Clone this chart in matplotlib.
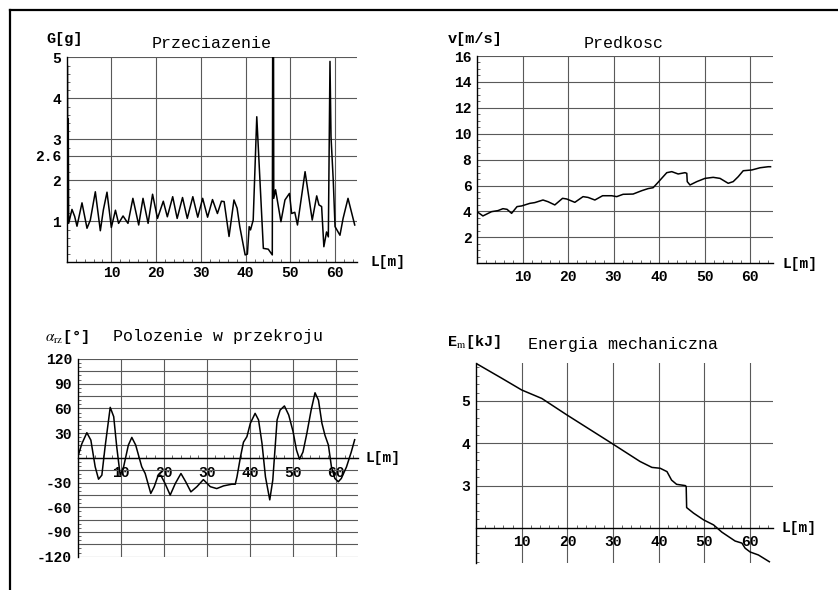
import matplotlib
matplotlib.use("Agg")
import matplotlib.pyplot as plt
import matplotlib.ticker as mtick
from matplotlib.lines import Line2D

plt.rcParams['font.family'] = 'Liberation Mono'
plt.rcParams['mathtext.fontset'] = 'stix'
plt.rcParams['axes.unicode_minus'] = False

# --- data ---
# Przeciazenie (G-load) vs L
L_g = [0.0, 0.05, 0.15, 0.25, 0.35, 0.44, 1.18, 1.78, 2.30, 3.42, 4.54, 5.28, 6.40, 7.52, 8.2,
       9.01, 9.98, 10.9, 11.6, 12.6, 13.7, 14.8, 16.1, 17.06, 18.2, 19.2, 20.3, 21.6, 22.5, 23.7,
       24.7, 25.9, 26.96, 28.2, 29.3, 30.4, 31.5, 32.6, 33.7, 34.6, 35.2, 36.3, 37.4, 38.1, 38.7,
       39.9, 40.4, 40.8, 41.1, 41.7, 42.5, 43.97, 45.07, 45.97, 46.05, 46.25, 46.3, 46.7, 47.9,
       48.8, 49.8, 50.3, 51.0, 51.6, 53.3, 54.9, 55.9, 56.4, 57.0, 57.5, 58.1, 58.5, 58.87, 59.1,
       59.6, 60.0, 61.1, 61.8, 62.9, 64.4]
G = [1.0, 0.15, 4.8, 1.2, 3.5, 0.95, 1.29, 1.12, 0.88, 1.45, 0.83, 1.03, 1.72, 0.77, 1.28,
     1.71, 0.85, 1.27, 0.95, 1.13, 0.95, 1.56, 0.91, 1.56, 0.95, 1.66, 1.07, 1.49, 1.11, 1.60,
     1.07, 1.58, 1.07, 1.60, 1.10, 1.56, 1.10, 1.53, 1.19, 1.49, 1.48, 0.63, 1.52, 1.32, 0.87,
     0.18, 0.20, 0.87, 0.79, 1.03, 3.55, 0.34, 0.32, 0.18, 5.0, 5.0, 1.56, 1.77, 0.99,
     1.52, 1.68, 1.19, 1.22, 0.91, 2.21, 1.03, 1.62, 1.40, 1.36, 0.38, 0.74, 0.62, 4.9, 3.06,
     2.0, 0.87, 0.66, 1.07, 1.56, 0.91]

# Predkosc (speed) vs L
L_v = [0, 1.3, 3.2, 4.6, 5.7, 6.6, 7.6, 8.8, 9.8, 11.6, 12.7, 14.5, 15.6, 17.1, 18.8, 19.7,
       21.5, 23.3, 24.4, 25.9, 27.6, 29.6, 30.7, 32.1, 34.3, 36.2, 37.6, 38.7, 39.6, 41.7, 42.8,
       44.2, 45.7, 46.1, 46.2, 46.8, 48.3, 50.1, 51.9, 53.4, 55.2, 56.3, 57.4, 58.5, 60.4, 62.2,
       64.0, 64.5]
v = [3.98, 3.65, 3.98, 4.06, 4.21, 4.16, 3.85, 4.37, 4.42, 4.62, 4.68, 4.88, 4.75, 4.5, 5.01,
     4.96, 4.7, 5.14, 5.08, 4.88, 5.21, 5.21, 5.14, 5.32, 5.34, 5.6, 5.76, 5.83, 6.17, 6.99,
     7.07, 6.89, 6.99, 6.94, 6.3, 6.04, 6.3, 6.55, 6.63, 6.55, 6.17, 6.3, 6.68, 7.14, 7.2, 7.37,
     7.45, 7.45]

# Polozenie w przekroju (angle) vs L
L_a = [0, 1.0, 2.17, 3.1, 4.1, 4.88, 5.65, 6.4, 7.59, 8.4, 9.1, 9.9, 10.7, 11.8, 12.6, 13.5,
       14.9, 15.7, 17.0, 17.8, 18.6, 19.3, 20.3, 21.5, 22.7, 24.0, 25.1, 26.3, 27.7, 29.2, 30.8,
       32.3, 33.9, 35.8, 36.6, 37.0, 37.8, 38.5, 39.3, 40.1, 41.2, 42.0, 42.8, 43.6, 44.6, 45.3,
       46.3, 47.0, 48.0, 49.0, 50.0, 50.8, 51.5, 52.3, 53.2, 54.2, 55.1, 55.9, 56.7, 57.4, 58.2,
       58.9, 59.7, 60.5, 61.2, 62.4, 63.5, 64.3]
alpha = [0, 17, 30.5, 21.5, -10.8, -25.9, -21, 13.4, 61.3, 50, 13.4, -21, -10.8, 15.5, 24.8,
         15.5, -10.8, -19, -43.2, -35, -23, -21, -31, -45.2, -31, -19, -29, -41.3, -35, -26.4,
         -35, -37.3, -34, -32, -32, -23, 1, 19, 25.7, 42, 54, 46, 17.5, -23, -51, -27, 46, 58,
         63, 52, 32, 9.5, -1.6, 7, 29.6, 58, 79, 70, 42, 27.5, 15.6, -10.6, -25, -29, -25, -11,
         7, 22]

# Energia mechaniczna vs L
L_e = [0, 5.6, 10, 14.4, 19.9, 29.7, 35.9, 38.5, 40.3, 41.8, 42.8, 43.9, 45.8, 46.0, 46.1,
       47.6, 49.8, 52, 53.8, 56.7, 58.2, 58.9, 60, 61.8, 64.2]
E = [5.89, 5.54, 5.26, 5.06, 4.67, 4.0, 3.57, 3.43, 3.41, 3.33, 3.13, 3.03, 3.0, 2.98, 2.48,
     2.35, 2.19, 2.07, 1.9, 1.69, 1.64, 1.52, 1.43, 1.36, 1.2]

x_ticks = [10, 20, 30, 40, 50, 60]
g_ticks = [1, 2, 2.6, 3, 4, 5]
v_ticks = [2, 4, 6, 8, 10, 12, 14, 16]
a_ticks = list(range(-120, 121, 15))
e_ticks = [3, 4, 5]

W, H = 838, 590
fig = plt.figure(figsize=(W / 100, H / 100), dpi=100)


def px_axes(x0, x1, ytop, ybot):
    return fig.add_axes([x0 / W, 1 - ybot / H, (x1 - x0) / W, (ybot - ytop) / H])


def ftext(x, y, s, **kw):
    fig.text(x / W, 1 - y / H, s, **kw)


def style(ax, ylim, yticks, ylabels, x_at, ymin_step, xpad):
    ax.set_xlim(0, 65)
    ax.set_ylim(*ylim)
    ax.patch.set_visible(False)
    for s in ['top', 'right']:
        ax.spines[s].set_visible(False)
    ax.spines['left'].set_position(('data', 0))
    ax.spines['bottom'].set_position(('data', x_at))
    for s in ['left', 'bottom']:
        ax.spines[s].set_linewidth(1.0)
    ax.set_xticks(x_ticks)
    ax.set_xticklabels([str(t) for t in x_ticks])
    ax.set_yticks(yticks)
    ax.set_yticklabels(ylabels)
    ax.xaxis.set_minor_locator(mtick.MultipleLocator(2))
    ax.yaxis.set_minor_locator(mtick.MultipleLocator(ymin_step))
    ax.grid(True, which='major', color='0.35', lw=0.8)
    ax.set_axisbelow(True)
    ax.tick_params(which='major', length=0, labelsize=10.5)
    ax.tick_params(axis='x', which='major', pad=xpad)
    ax.tick_params(axis='y', which='major', pad=4)
    ax.tick_params(which='minor', direction='in', length=2.5, width=0.6, color='0.3')
    for lbl in ax.get_xticklabels() + ax.get_yticklabels():
        lbl.set_fontweight('bold')


# panel 1: G
ax1 = px_axes(66.7, 357.4, 57.3, 262.3)
style(ax1, (0, 5), g_ticks, ['1', '2', '2.6', '3', '4', '5'], 0, 0.2, 3)
ax1.plot(L_g, G, color='black', lw=1.1)

# panel 2: v
ax2 = px_axes(477, 772.8, 56, 263.2)
style(ax2, (0, 16), v_ticks, [str(t) for t in v_ticks], 0, 0.5, 5)
ax2.plot(L_v, v, color='black', lw=1.1)

# panel 3: alpha
ax3 = px_axes(77.5, 357.7, 359, 556.7)
a_labels = [str(t) if (t % 30 == 0 and t != 0) else '' for t in a_ticks]
style(ax3, (-120, 120), a_ticks, a_labels, 0, 5, 6)
ax3.plot(L_a, alpha, color='black', lw=1.1)

# panel 4: E
ax4 = px_axes(476, 773, 363.3, 563.3)
style(ax4, (1.163, 5.891), e_ticks, ['3', '4', '5'], 2, 0.2, 5)
ax4.plot(L_e, E, color='black', lw=1.1)

# titles and axis labels
ftext(65, 39, 'G[g]', ha='center', va='center', fontsize=11, fontweight='bold')
ftext(212, 43, 'Przeciazenie', ha='center', va='center', fontsize=12)
ftext(388, 262, 'L[m]', ha='center', va='center', fontsize=10.5, fontweight='bold')

ftext(475, 39, 'v[m/s]', ha='center', va='center', fontsize=11, fontweight='bold')
ftext(624, 43, 'Predkosc', ha='center', va='center', fontsize=12)
ftext(800, 264, 'L[m]', ha='center', va='center', fontsize=10.5, fontweight='bold')

ftext(45, 337, r'$\alpha_{\rm rz}$[°]', ha='left', va='center', fontsize=11, fontweight='bold')
ftext(113, 337, 'Polozenie w przekroju', ha='left', va='center', fontsize=12)
ftext(383, 458, 'L[m]', ha='center', va='center', fontsize=10.5, fontweight='bold')

ftext(447, 342, r'E$_{\rm m}$[kJ]', ha='left', va='center', fontsize=11, fontweight='bold')
ftext(623, 345, 'Energia mechaniczna', ha='center', va='center', fontsize=12)
ftext(799, 528, 'L[m]', ha='center', va='center', fontsize=10.5, fontweight='bold')

# outer frame (top and left edges)
fig.add_artist(Line2D([10 / W, 1.0], [1 - 10 / H, 1 - 10 / H], transform=fig.transFigure,
                      color='black', lw=1.6))
fig.add_artist(Line2D([10 / W, 10 / W], [0.0, 1 - 10 / H], transform=fig.transFigure,
                      color='black', lw=1.6))

fig.savefig('out.png', dpi=100)
